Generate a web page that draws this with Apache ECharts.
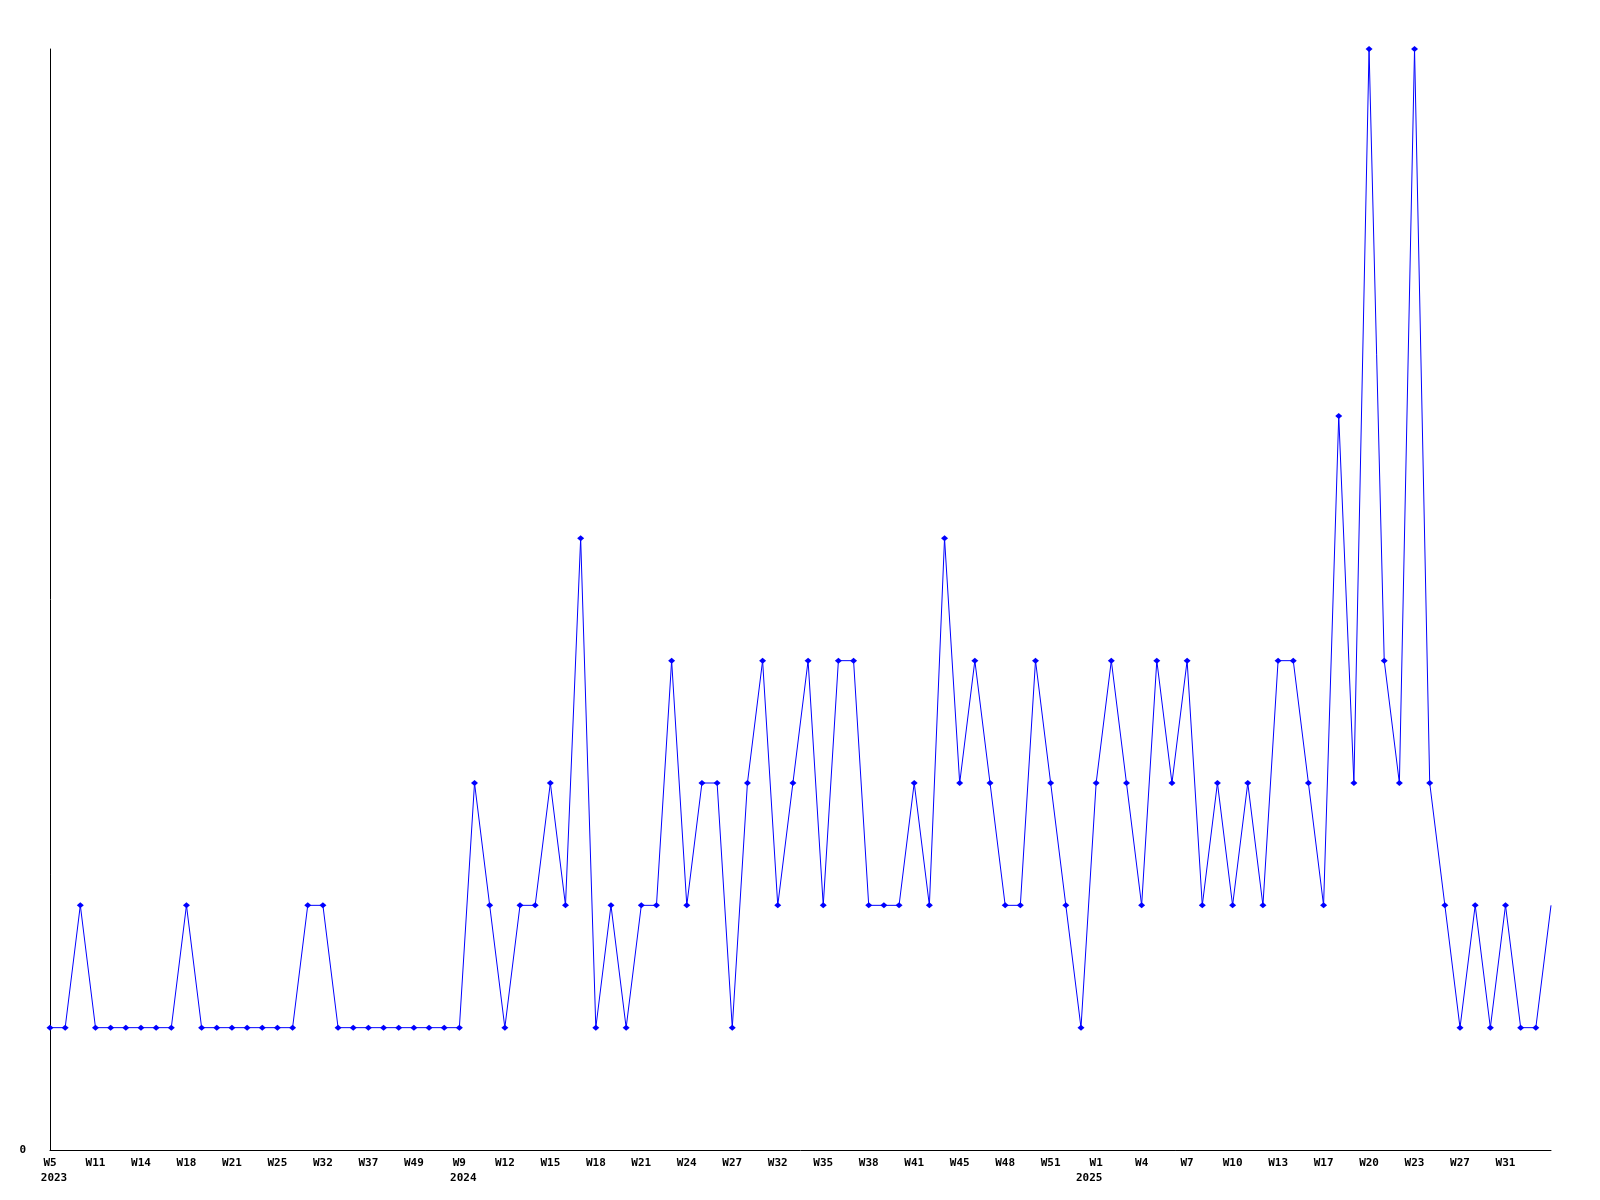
<!DOCTYPE html>
<html><head><meta charset="utf-8">
<script src="https://cdn.jsdelivr.net/npm/echarts@6/dist/echarts.min.js"></script>
<style>html,body{margin:0;padding:0;background:#fff}#c{width:1600px;height:1200px}</style>
</head><body><div id="c"></div>
<script>
const categories = [
 '2023-W5','2023-W7','2023-W9','2023-W11','2023-W12','2023-W13','2023-W14','2023-W15','2023-W16','2023-W18',
 '2023-W19','2023-W20','2023-W21','2023-W22','2023-W23','2023-W25','2023-W27','2023-W30','2023-W32','2023-W34',
 '2023-W36','2023-W37','2023-W40','2023-W45','2023-W49','2023-W50','2023-W52',
 '2024-W9','2024-W10','2024-W11','2024-W12','2024-W13','2024-W14','2024-W15','2024-W16','2024-W17','2024-W18',
 '2024-W19','2024-W20','2024-W21','2024-W22','2024-W23','2024-W24','2024-W25','2024-W26','2024-W27','2024-W29',
 '2024-W31','2024-W32','2024-W33','2024-W34','2024-W35','2024-W36','2024-W37','2024-W38','2024-W39','2024-W40',
 '2024-W41','2024-W43','2024-W44','2024-W45','2024-W46','2024-W47','2024-W48','2024-W49','2024-W50','2024-W51',
 '2024-W52','2024-W53',
 '2025-W1','2025-W2','2025-W3','2025-W4','2025-W5','2025-W6','2025-W7','2025-W8','2025-W9','2025-W10',
 '2025-W11','2025-W12','2025-W13','2025-W14','2025-W16','2025-W17','2025-W18','2025-W19','2025-W20','2025-W21',
 '2025-W22','2025-W23','2025-W24','2025-W26','2025-W27','2025-W28','2025-W30','2025-W31','2025-W32','2025-W33',
 '2025-W34'
];
const values = [
 1,1,2,1,1,1,1,1,1,2, 1,1,1,1,1,1,1,2,2,1,
 1,1,1,1,1,1,1,1,3,2, 1,2,2,3,2,5,1,2,1,2,
 2,4,2,3,3,1,3,4,2,3, 4,2,4,4,2,2,2,3,2,5,
 3,4,3,2,2,4,3,2,1,3, 4,3,2,4,3,4,2,3,2,3,
 2,4,4,3,2,6,3,9,4,3, 9,3,2,1,2,1,2,1,1,2
];
const yTickLabels = ['0'];

const chart = echarts.init(document.getElementById('c'), null, {renderer: 'canvas'});
const labelFont = {fontFamily: '"DejaVu Sans Mono", monospace', fontWeight: 'bold', fontSize: 11, color: '#000'};
chart.setOption({
  animation: false,
  backgroundColor: '#fff',
  grid: {left: 50, right: 49, top: 49, bottom: 50, containLabel: false},
  xAxis: {
    type: 'category',
    data: categories,
    boundaryGap: false,
    axisLine: {lineStyle: {color: '#000', width: 1}},
    axisTick: {show: false},
    splitLine: {show: false},
    axisLabel: Object.assign({}, labelFont, {
      interval: function (idx) { return idx % 3 === 0 && idx < categories.length - 3; },
      margin: 6,
      lineHeight: 15,
      align: 'center',
      formatter: function (val, idx) {
        const parts = val.split('-');
        const prev = idx > 0 ? categories[idx - 1].split('-')[0] : null;
        if (parts[0] !== prev) {
          const style = parts[1].length <= 2 && parts[1] === 'W1' ? 'z' : 'y';
          return parts[1] + '\n{' + style + '|' + parts[0] + '}';
        }
        return parts[1];
      },
      rich: {
        y: Object.assign({}, labelFont, {lineHeight: 15, padding: [0, 0, 0, 8]}),
        z: Object.assign({}, labelFont, {lineHeight: 15, padding: [0, 14, 0, 0]})
      }
    })
  },
  yAxis: {
    type: 'value',
    min: 0,
    max: 9,
    interval: 9,
    axisLine: {show: true, lineStyle: {color: '#000', width: 1}},
    axisTick: {show: false},
    splitLine: {show: false},
    axisLabel: Object.assign({}, labelFont, {
      margin: 24,
      formatter: function (v) { return v === 0 ? yTickLabels[0] : ''; }
    })
  },
  series: [{
    type: 'line',
    data: values.map((v, i) => i === values.length - 1 ? {value: v, symbol: 'none'} : v),
    symbol: 'diamond',
    symbolSize: [7, 6],
    showAllSymbol: true,
    lineStyle: {color: '#0000ff', width: 1},
    itemStyle: {color: '#0000ff'},
    emphasis: {disabled: true}
  }]
});
</script>
</body></html>
